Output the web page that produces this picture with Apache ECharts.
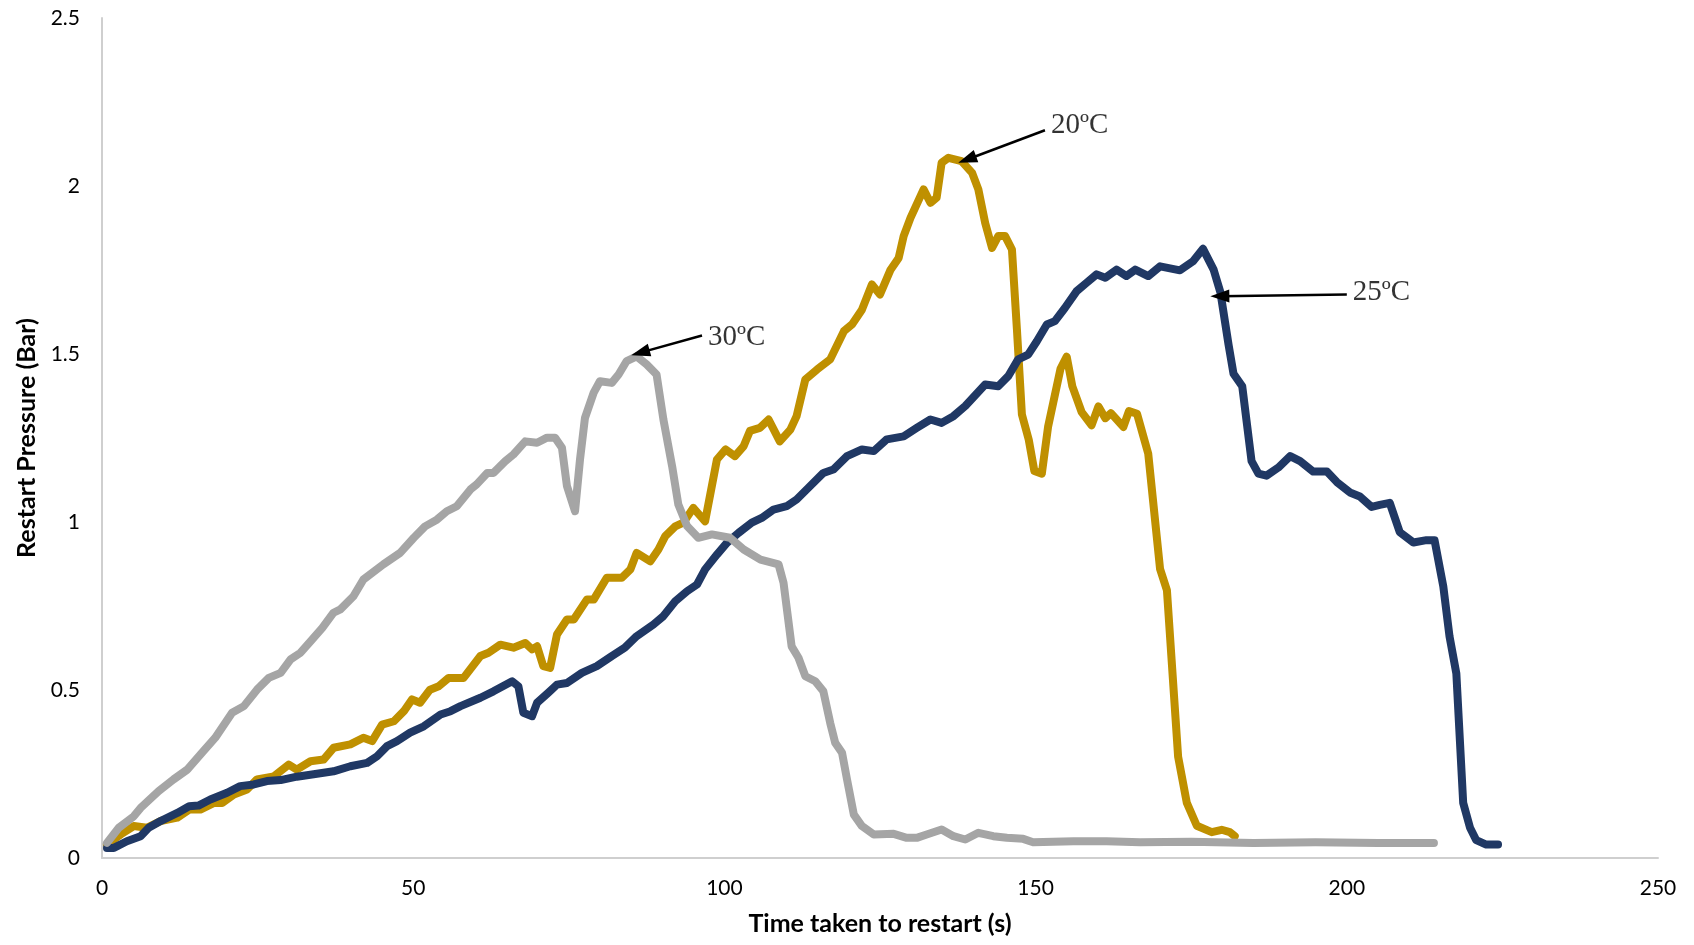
<!DOCTYPE html>
<html>
<head>
<meta charset="utf-8">
<title>Restart Pressure vs Time</title>
<script src="https://cdn.jsdelivr.net/npm/echarts@6/dist/echarts.min.js"></script>
<style>
  html, body { margin: 0; padding: 0; background: #ffffff; }
  #chart { width: 1694px; height: 945px; }
</style>
</head>
<body>
<div id="chart"></div>
<script>
// Restart pressure (bar) against time taken to restart (s), three temperatures.

// 20 ºC run
const time20 = [0.8,3.0,5.1,7.2,9.4,12.1,14.0,15.8,18.0,19.3,21.2,23.3,24.9,27.6,30.0,31.3,33.5,35.6,37.2,39.9,42.0,43.4,45.0,46.9,48.5,49.8,51.1,52.7,54.1,55.7,58.1,60.8,62.1,64.0,66.1,68.0,69.1,69.9,70.9,72.0,73.1,74.7,75.8,77.9,79.0,81.1,83.5,84.9,85.9,88.1,89.4,90.5,92.1,93.4,95.0,96.9,98.8,100.2,101.7,103.1,104.1,105.7,107.1,108.9,110.6,111.6,113.0,114.9,117.0,119.2,120.5,122.1,123.7,125.0,126.7,128.0,128.8,129.9,132.0,133.1,134.1,134.9,136.0,138.1,139.8,140.8,141.9,143.0,144.0,145.1,146.2,147.0,147.8,148.9,149.8,151.0,152.0,154.0,155.0,155.9,157.4,159.0,160.1,161.2,162.1,164.1,165.0,166.3,168.1,170.0,171.1,172.9,174.3,175.9,178.3,179.9,181.2,182.0];
const pressure20 = [0.040,0.070,0.095,0.090,0.110,0.120,0.144,0.144,0.164,0.164,0.189,0.204,0.234,0.243,0.278,0.263,0.288,0.293,0.328,0.338,0.358,0.348,0.397,0.407,0.437,0.472,0.462,0.501,0.511,0.536,0.536,0.601,0.611,0.635,0.626,0.640,0.621,0.630,0.571,0.566,0.665,0.710,0.710,0.769,0.769,0.834,0.834,0.859,0.908,0.883,0.918,0.958,0.987,0.998,1.042,1.002,1.186,1.216,1.196,1.226,1.271,1.280,1.305,1.240,1.275,1.315,1.424,1.454,1.484,1.568,1.588,1.632,1.707,1.677,1.751,1.786,1.851,1.905,1.990,1.950,1.965,2.069,2.084,2.074,2.039,1.990,1.890,1.816,1.851,1.851,1.811,1.573,1.320,1.245,1.152,1.144,1.283,1.456,1.492,1.404,1.327,1.288,1.344,1.309,1.324,1.283,1.330,1.322,1.203,0.860,0.797,0.301,0.164,0.096,0.077,0.084,0.077,0.065];

// 25 ºC run
const time25 = [0.8,1.9,4.0,6.2,7.5,9.4,12.1,14.0,15.5,17.4,20.1,22.2,24.4,26.5,28.7,31.3,34.0,37.2,39.9,42.6,44.2,45.8,47.4,49.5,51.7,54.4,56.0,57.6,60.8,62.9,65.9,66.9,67.7,69.1,69.9,71.7,73.1,74.7,77.1,79.5,81.9,84.0,85.9,88.6,90.2,92.1,94.0,95.6,96.9,98.8,100.4,102.3,104.4,106.0,107.9,110.0,111.6,113.5,115.9,117.5,119.7,122.1,124.0,126.1,128.8,130.9,133.1,134.9,136.8,138.7,141.9,144.0,145.6,147.2,148.8,150.2,151.8,153.1,154.7,156.6,158.2,159.8,161.2,163.0,164.6,166.0,168.1,170.0,173.2,175.3,176.9,178.6,179.7,181.0,181.8,183.2,184.7,185.8,187.1,189.0,190.9,192.5,194.6,196.8,198.4,200.5,202.1,204.0,205.3,206.9,208.5,210.7,212.8,214.1,215.5,216.5,217.6,218.7,219.8,220.8,222.4,224.3];
const pressure25 = [0.030,0.030,0.050,0.065,0.090,0.110,0.134,0.154,0.156,0.174,0.194,0.214,0.219,0.229,0.232,0.242,0.249,0.258,0.273,0.283,0.303,0.333,0.348,0.373,0.392,0.427,0.437,0.452,0.477,0.496,0.526,0.511,0.432,0.422,0.462,0.492,0.516,0.521,0.551,0.571,0.601,0.626,0.660,0.695,0.720,0.764,0.794,0.814,0.859,0.903,0.938,0.968,0.998,1.012,1.037,1.047,1.067,1.102,1.146,1.156,1.196,1.216,1.211,1.246,1.255,1.280,1.305,1.295,1.315,1.345,1.409,1.404,1.434,1.484,1.498,1.538,1.588,1.598,1.637,1.687,1.712,1.737,1.727,1.751,1.732,1.751,1.732,1.761,1.749,1.776,1.813,1.751,1.683,1.528,1.441,1.404,1.181,1.144,1.138,1.162,1.196,1.181,1.150,1.150,1.119,1.088,1.076,1.045,1.051,1.057,0.970,0.939,0.946,0.946,0.809,0.660,0.549,0.164,0.090,0.053,0.040,0.040];

// 30 ºC run
const time30 = [0.8,2.7,5.1,6.2,9.1,11.5,13.7,15.8,18.2,20.9,22.8,24.9,26.8,28.7,30.3,31.9,33.5,35.4,37.2,38.3,40.4,42.0,45.2,47.9,50.1,51.9,53.8,55.4,57.0,59.2,60.2,61.9,62.9,64.8,66.1,68.0,69.9,71.5,72.8,73.9,74.7,76.0,76.8,77.6,79.0,80.0,81.9,83.0,84.3,85.9,87.5,89.1,90.2,91.6,92.6,94.0,95.8,98.0,100.9,103.1,105.8,108.7,109.5,110.8,111.9,113.0,114.6,115.9,117.0,117.8,118.9,119.7,120.8,122.1,124.0,127.2,129.3,130.9,132.5,134.9,136.8,138.7,140.8,143.2,145.4,148.0,149.6,156.1,161.4,166.8,175,185,195,205,214];
const pressure30 = [0.045,0.09,0.124,0.149,0.199,0.234,0.263,0.308,0.358,0.432,0.452,0.501,0.536,0.551,0.591,0.611,0.645,0.685,0.730,0.740,0.779,0.829,0.874,0.908,0.953,0.987,1.007,1.032,1.047,1.097,1.112,1.146,1.146,1.181,1.201,1.240,1.236,1.251,1.251,1.221,1.107,1.032,1.186,1.310,1.385,1.419,1.414,1.439,1.479,1.493,1.469,1.439,1.305,1.166,1.052,0.988,0.953,0.963,0.953,0.918,0.888,0.874,0.819,0.630,0.596,0.541,0.526,0.496,0.402,0.343,0.313,0.234,0.129,0.095,0.070,0.072,0.060,0.060,0.070,0.085,0.065,0.055,0.075,0.065,0.060,0.057,0.047,0.050,0.050,0.047,0.048,0.045,0.047,0.045,0.045];

// Callout text and arrows: [time, pressure] of the text anchor and arrow tip
const calloutLabels = ['20ºC', '25ºC', '30ºC'];
const calloutText = [[151.5, 2.18], [200.0, 1.683], [96.4, 1.55]];
const calloutTip = [[139.0, 2.079], [179.6, 1.672], [86.5, 1.504]];
const calloutTail = [[151.5, 2.166], [200.0, 1.677], [96.4, 1.555]];

const xTicks = { min: 0, max: 250, interval: 50 };
const yTicks = { min: 0, max: 2.5, interval: 0.5 };

const colors = { t20: '#BF9000', t25: '#203864', t30: '#A5A5A5' };

function pairs(xs, ys) {
  return xs.map((x, i) => [x, ys[i]]);
}

function curve(name, xs, ys, color) {
  return {
    name: name,
    type: 'line',
    data: pairs(xs, ys),
    showSymbol: false,
    symbol: 'none',
    smooth: false,
    lineStyle: { color: color, width: 8, cap: 'round', join: 'round' },
    emphasis: { disabled: true },
    z: 2
  };
}

const chart = echarts.init(document.getElementById('chart'), null, { renderer: 'canvas' });

const axisFont = { fontFamily: 'Lato, "Open Sans", sans-serif', fontSize: 21, color: '#000000' };
const titleFont = { fontFamily: 'Lato, "Open Sans", sans-serif', fontSize: 25, fontWeight: 'bold', color: '#000000' };

chart.setOption({
  animation: false,
  backgroundColor: '#ffffff',
  grid: { left: 102, right: 36, top: 18, bottom: 87, containLabel: false },
  xAxis: {
    type: 'value',
    min: xTicks.min, max: xTicks.max, interval: xTicks.interval,
    name: 'Time taken to restart (s)',
    nameLocation: 'middle',
    nameGap: 53,
    nameTextStyle: titleFont,
    axisLine: { show: true, lineStyle: { color: '#CFCFCF', width: 2 } },
    axisTick: { show: false },
    splitLine: { show: false },
    axisLabel: Object.assign({ margin: 20 }, axisFont)
  },
  yAxis: {
    type: 'value',
    min: yTicks.min, max: yTicks.max, interval: yTicks.interval,
    name: 'Restart Pressure (Bar)',
    nameLocation: 'middle',
    nameGap: 61,
    nameRotate: 90,
    nameTextStyle: titleFont,
    axisLine: { show: true, lineStyle: { color: '#CFCFCF', width: 2 } },
    axisTick: { show: false },
    splitLine: { show: false },
    axisLabel: Object.assign({ margin: 22 }, axisFont)
  },
  series: [
    curve('20ºC', time20, pressure20, colors.t20),
    curve('25ºC', time25, pressure25, colors.t25),
    curve('30ºC', time30, pressure30, colors.t30),
    {
      name: 'callouts',
      type: 'scatter',
      symbolSize: 0,
      silent: true,
      z: 5,
      data: calloutText.map((p, i) => ({ value: p, name: calloutLabels[i] })),
      label: {
        show: true,
        position: 'right',
        distance: 6,
        formatter: (p) => p.name,
        fontFamily: '"Liberation Serif", "DejaVu Serif", serif',
        fontSize: 29,
        color: '#000000'
      },
      markLine: {
        silent: true,
        animation: false,
        symbol: ['none', 'triangle'],
        symbolSize: [13, 19],
        lineStyle: { color: '#000000', width: 2.5, type: 'solid' },
        label: { show: false },
        emphasis: { disabled: true },
        data: calloutTail.map((p, i) => [{ coord: p }, { coord: calloutTip[i] }])
      }
    }
  ]
});
</script>
</body>
</html>
